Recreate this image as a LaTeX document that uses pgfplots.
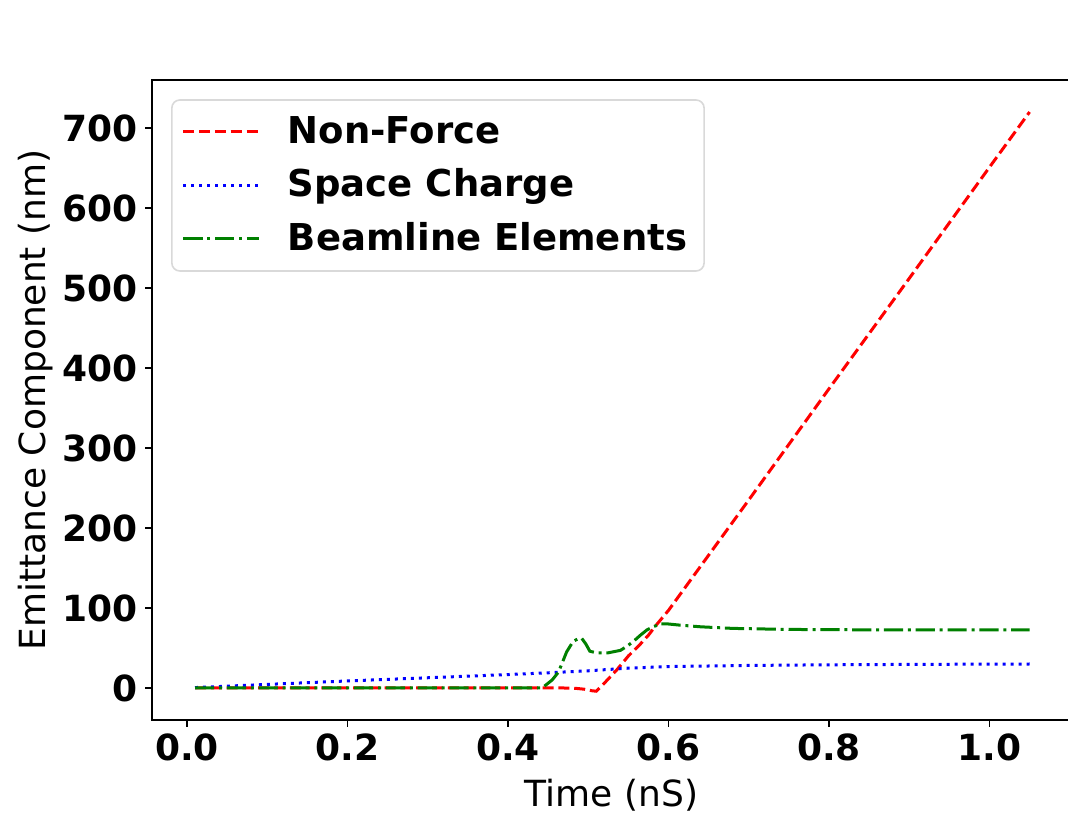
\documentclass[border=0pt]{standalone}
\usepackage{fontspec}
\setmainfont{DejaVu Sans}
\usepackage{pgfplots}
\pgfplotsset{compat=1.18}
\definecolor{mplgreen}{rgb}{0,0.5,0}
\begin{document}
\begin{tikzpicture}
\begin{axis}[
  scale only axis,
  width=459.5pt, height=320pt,
  xmin=-0.0436, xmax=1.1016,
  ymin=-40, ymax=760,
  axis line style={line width=0.9pt},
  tick align=outside,
  tick pos=left,
  major tick length=3.5pt,
  every tick/.style={black, line width=0.8pt},
  xtick={0,0.2,0.4,0.6,0.8,1.0},
  ytick={0,100,200,300,400,500,600,700},
  xticklabel style={/pgf/number format/.cd, fixed, fixed zerofill, precision=1, assume math mode=true},
  yticklabel style={/pgf/number format/assume math mode=true},
  ticklabel style={font=\bfseries\fontsize{18}{20}\selectfont},
  xlabel={Time (nS)},
  ylabel={Emittance Component (nm)},
  label style={font=\fontsize{18}{20}\selectfont},
  xlabel style={yshift=-2pt},
  ylabel style={yshift=-2pt},
  legend cell align=left,
  legend image code/.code={\draw[#1] (0pt,0pt) -- (38pt,0pt); \path (48pt,0pt);},
  legend style={at={(rel axis cs:0.0207,0.970)}, anchor=north west,
    draw=black!15, line width=0.8pt, rounded corners=4pt,
    font=\bfseries\fontsize{18.5}{20}\selectfont,
    inner xsep=5pt, inner ysep=6.25pt, row sep=7.25pt,
    nodes={text height=15.5pt, text depth=4pt, inner ysep=0pt, inner xsep=3.5pt}},
]
\addplot[red, line width=1.5pt, dash pattern=on 5.5pt off 2.4pt] coordinates {
(0.01,0) (0.47,0) (0.485,-0.5) (0.495,-1.5) (0.505,-3.5) (0.51,-4) (0.52,6)
(0.535,22) (0.55,40) (0.565,55) (0.575,66) (0.585,79) (0.6,97) (0.65,166)
(0.7,235) (0.8,374) (0.9,512) (1.0,651) (1.05,720)};
\addlegendentry{Non-Force}
\addplot[blue, line width=1.5pt, dash pattern=on 1.5pt off 2.5pt] coordinates {
(0.01,0.5) (0.1,4.5) (0.2,8.8) (0.3,12.8) (0.4,16.8) (0.45,19) (0.5,21.5)
(0.55,24.8) (0.6,26.8) (0.7,28.2) (0.8,29) (0.9,29.5) (1.05,30)};
\addlegendentry{Space Charge}
\addplot[mplgreen, line width=1.5pt, dash pattern=on 9.6pt off 2.4pt on 1.5pt off 2.4pt] coordinates {
(0.01,0) (0.44,0) (0.445,2) (0.455,10) (0.463,20) (0.473,45) (0.481,58)
(0.488,62) (0.492,62) (0.497,55) (0.502,46) (0.51,44) (0.525,44) (0.54,47)
(0.548,52) (0.556,58) (0.565,66) (0.573,72.5) (0.582,77) (0.591,80) (0.6,80)
(0.615,78.5) (0.64,76.5) (0.68,74.5) (0.75,73.2) (0.85,72.7) (0.95,72.5) (1.05,72.5)};
\addlegendentry{Beamline Elements}
\coordinate (BL) at (rel axis cs:-0.1654,-0.1453);
\coordinate (TR) at (rel axis cs:0.9967,1.125);
\end{axis}
\pgfresetboundingbox
\path[use as bounding box] (BL) rectangle (TR);
\end{tikzpicture}
\end{document}
